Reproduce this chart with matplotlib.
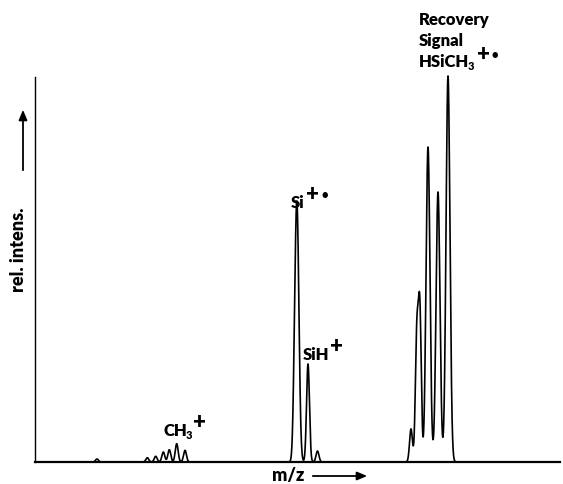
import numpy as np
import matplotlib
matplotlib.use("Agg")
import matplotlib.pyplot as plt

# ---- data (x in channel units, relative intensity) ----
ch3_pos = [147.3, 155.7, 163.3, 169.3, 176.7, 185.0]
ch3_int = [4.3, 5.7, 10.0, 12.3, 18.3, 11.7]
si_pos = [294.5, 297.0, 308.0, 317.5]
si_int = [40.0, 251.0, 98.0, 11.0]
rec_pos = [411.0, 416.8, 419.8, 428.0, 438.0, 448.0]
rec_int = [33.0, 125.0, 151.0, 315.0, 270.0, 386.0]
noise_pos = [97.0]
noise_int = [3.0]
peak_width = 1.45

W, H = 563, 485
fig = plt.figure(figsize=(W / 100, H / 100), dpi=100)

x0, x1 = 35, 560
ytop, ybase = 78, 463
ax = fig.add_axes([x0 / W, (H - ybase) / H, (x1 - x0) / W, (ybase - ytop) / H])

positions = np.array(noise_pos + ch3_pos + si_pos + rec_pos)
heights = np.array(noise_int + ch3_int + si_int + rec_int)

x = np.linspace(x0, x1, 6000)
y = np.zeros_like(x)
for p, h in zip(positions, heights):
    w = peak_width * (1.35 if h > 200 else 1.0)
    y += h * np.exp(-0.5 * ((x - p) / w) ** 2)

ax.plot(x, y, color="black", lw=1.2, clip_on=False)
ax.set_xlim(x0, x1)
ax.set_ylim(0, ybase - ytop)
for s in ["top", "right"]:
    ax.spines[s].set_visible(False)
ax.spines["left"].set_linewidth(1.0)
ax.spines["bottom"].set_linewidth(1.6)
ax.set_xticks([])
ax.set_yticks([])
ax.patch.set_alpha(0)

font = dict(family=["Lato", "DejaVu Sans"], weight="heavy", color="black")


def fx(px):
    return px / W


def fy(py):
    return (H - py) / H


fs = 12
# peak labels
fig.text(fx(163), fy(436), "CH", fontsize=fs, ha="left", va="baseline", **font)
fig.text(fx(186), fy(439), "3", fontsize=fs - 4, ha="left", va="baseline", **font)
fig.text(fx(193), fy(429), "+", fontsize=fs + 4, ha="left", va="baseline", **font)

fig.text(fx(291), fy(208), "Si", fontsize=fs, ha="left", va="baseline", **font)
fig.text(fx(306), fy(201), "+", fontsize=fs + 4, ha="left", va="baseline", **font)
fig.text(fx(321), fy(198), "\u2022", fontsize=fs - 4, ha="left", va="baseline", **font)

fig.text(fx(303), fy(360), "SiH", fontsize=fs, ha="left", va="baseline", **font)
fig.text(fx(330), fy(353), "+", fontsize=fs + 4, ha="left", va="baseline", **font)

fig.text(fx(419), fy(25), "Recovery", fontsize=fs, ha="left", va="baseline", **font)
fig.text(fx(419), fy(46), "Signal", fontsize=fs, ha="left", va="baseline", **font)
fig.text(fx(419), fy(67), "HSiCH", fontsize=fs, ha="left", va="baseline", **font)
fig.text(fx(468), fy(70), "3", fontsize=fs - 4, ha="left", va="baseline", **font)
fig.text(fx(477), fy(61), "+", fontsize=fs + 4, ha="left", va="baseline", **font)
fig.text(fx(492), fy(58), "\u2022", fontsize=fs - 4, ha="left", va="baseline", **font)

# axis labels with arrows
fig.text(fx(272), fy(481), "m/z", fontsize=fs + 1, ha="left", va="baseline", **font)
fig.add_artist(matplotlib.patches.FancyArrowPatch(
    (fx(310), fy(477)), (fx(370), fy(477)), transform=fig.transFigure,
    arrowstyle="-|>,head_length=6,head_width=2.5", color="black", lw=1.3))

fig.text(fx(27), fy(292), "rel. intens.", fontsize=fs + 1, rotation=90,
         ha="right", va="bottom", **font)
fig.add_artist(matplotlib.patches.FancyArrowPatch(
    (fx(23), fy(174)), (fx(23), fy(108)), transform=fig.transFigure,
    arrowstyle="-|>,head_length=6,head_width=2.5", color="black", lw=1.3))

fig.savefig("out.png", dpi=100)
